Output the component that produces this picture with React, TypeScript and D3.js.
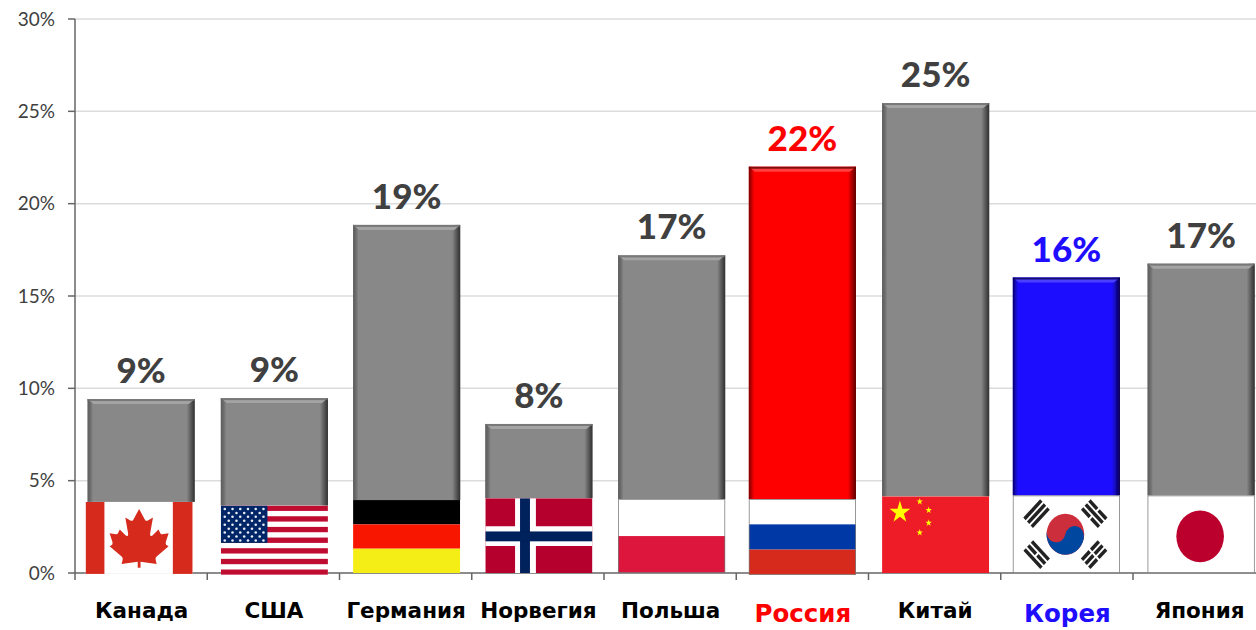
import React from "react";
import * as d3 from "d3";

const categories = ["Канада", "США", "Германия", "Норвегия", "Польша", "Россия", "Китай", "Корея", "Япония"];
const values = [9.42, 9.47, 18.85, 8.07, 17.2, 22.0, 25.45, 16.0, 16.75];
const dataLabels = ["9%", "9%", "19%", "8%", "17%", "22%", "25%", "16%", "17%"];
const flagTops = [3.85, 3.65, 3.95, 4.05, 4.0, 4.0, 4.15, 4.2, 4.2];
const flagBottoms = [-0.05, -0.1, 0, 0, 0, -0.1, 0, 0, 0];
const flagCodes = ["ca", "us", "de", "no", "pl", "ru", "cn", "kr", "jp"];
const yTicks = [0, 5, 10, 15, 20, 25, 30];

const W = 1256, H = 630;
const X0 = 75, STEP = 132.25, Y0 = 573, YT = 19;
const x = d3.scaleBand<string>().domain(categories).range([X0, X0 + STEP * categories.length]).paddingInner(0.19).paddingOuter(0.095);
const y = d3.scaleLinear().domain([0, 30]).range([Y0, YT]);

const accent: Record<string, string> = { "Россия": "#ff0000", "Корея": "#1f0dff" };
const dark: Record<string, string> = { "Россия": "#5a0000", "Корея": "#05004a" };
const light: Record<string, string> = { "Россия": "#ff4040", "Корея": "#4a40ff" };
const nudge: Record<string, number> = { us: 1, de: 1, no: 1, pl: 1.5, cn: 1, kr: -0.5, jp: 2 };
const flagExtra: Record<string, number> = { ca: -2 };

function star(cx: number, cy: number, r: number) {
  const pts = d3.range(10).map((i) => {
    const a = -Math.PI / 2 + (i * Math.PI) / 5;
    const rr = i % 2 ? r * 0.382 : r;
    return `${cx + rr * Math.cos(a)},${cy + rr * Math.sin(a)}`;
  });
  return pts.join(" ");
}

function Trigram({ cx, cy, rot, broken }: { cx: number; cy: number; rot: number; broken: boolean[] }) {
  return (
    <g transform={`translate(${cx},${cy}) rotate(${rot})`}>
      {broken.map((b, i) => {
        const yy = -7 + i * 5.2;
        return b ? (
          <g key={i}>
            <rect x={-12} y={yy} width={11} height={3.4} fill="#222" />
            <rect x={1} y={yy} width={11} height={3.4} fill="#222" />
          </g>
        ) : (
          <rect key={i} x={-12} y={yy} width={24} height={3.4} fill="#222" />
        );
      })}
    </g>
  );
}

function Flag({ code }: { code: string }) {
  const gray = "#777";
  switch (code) {
    case "ca":
      return (
        <g>
          <rect width={108} height={72} fill="#fff" />
          <rect width={19} height={72} fill="#d52b1e" />
          <rect x={88} width={20} height={72} fill="#d52b1e" />
          <path
            d="M54 5 L60 16 C61 18 62 18 64 17 L69 14 L66 31 C65.5 34 67 35 69 33 L75 27 L77 31 C77.5 32 78 32 79 32 L86 31 L83 40 C82.5 42 83 43 84 44 L86 45 L73 56 C72 57 71.5 58 72 60 L73 64 L55.5 61.5 L55.5 68 L52.5 68 L52.5 61.5 L35 64 L36 60 C36.5 58 36 57 35 56 L22 45 L24 44 C25 43 25.5 42 25 40 L22 31 L29 32 C30 32 30.5 32 31 31 L33 27 L39 33 C41 35 42.5 34 42 31 L39 14 L44 17 C46 18 47 18 48 16 Z"
            fill="#d52b1e"
            transform="translate(54 36) scale(0.93) translate(-54 -36)"
          />
        </g>
      );
    case "us": {
      const sh = 72 / 13;
      return (
        <g>
          <rect width={108} height={72} fill="#fff" />
          {d3.range(0, 13, 2).map((i) => (
            <rect key={i} y={i * sh} width={108} height={sh} fill="#bf0a30" />
          ))}
          <rect width={47} height={sh * 7} fill="#002868" />
          {d3.range(9).map((r) =>
            d3.range(r % 2 ? 5 : 6).map((c) => (
              <circle key={`${r}-${c}`} cx={(r % 2 ? 8 : 4) + c * 7.8} cy={3.5 + r * 4.1} r={1.3} fill="#e8ecf5" />
            ))
          )}
        </g>
      );
    }
    case "de":
      return (
        <g>
          <rect width={108} height={24} fill="#000" />
          <rect y={24} width={108} height={24} fill="#f91505" />
          <rect y={48} width={108} height={24} fill="#f5ee16" />
        </g>
      );
    case "no":
      return (
        <g>
          <rect width={108} height={72} fill="#b5002d" />
          <rect x={30} width={21} height={72} fill="#fff" />
          <rect y={27} width={108} height={19} fill="#fff" />
          <rect x={35} width={10} height={72} fill="#00205b" />
          <rect y={32} width={108} height={9.5} fill="#00205b" />
        </g>
      );
    case "pl":
      return (
        <g>
          <rect width={108} height={36} fill="#fff" />
          <rect y={36} width={108} height={36} fill="#dc173d" />
          <rect width={108} height={72} fill="none" stroke={gray} strokeWidth={1.5} />
        </g>
      );
    case "ru":
      return (
        <g>
          <rect width={108} height={24} fill="#fff" />
          <rect y={24} width={108} height={24} fill="#0039a6" />
          <rect y={48} width={108} height={24} fill="#d52b1e" />
          <rect width={108} height={72} fill="none" stroke={gray} strokeWidth={1.5} />
        </g>
      );
    case "cn":
      return (
        <g>
          <rect width={108} height={72} fill="#ee1c25" />
          <polygon points={star(18, 15, 11)} fill="#ffff00" />
          <polygon points={star(38, 5, 3.4)} fill="#ffff00" />
          <polygon points={star(47, 13, 3.4)} fill="#ffff00" />
          <polygon points={star(47, 25, 3.4)} fill="#ffff00" />
          <polygon points={star(38, 34, 3.4)} fill="#ffff00" />
        </g>
      );
    case "kr":
      return (
        <g>
          <rect width={108} height={72} fill="#fff" />
          <circle cx={53} cy={36} r={19} fill="#cd2e3a" />
          <path d="M34 36 A19 19 0 0 0 72 36 A9.5 9.5 0 0 0 53 36 A9.5 9.5 0 0 1 34 36 Z" fill="#0047a0" transform="rotate(12 53 36)" />
          <Trigram cx={24} cy={17} rot={-45} broken={[false, false, false]} />
          <Trigram cx={82} cy={17} rot={45} broken={[true, false, true]} />
          <Trigram cx={24} cy={55} rot={45} broken={[false, true, false]} />
          <Trigram cx={82} cy={55} rot={-45} broken={[true, true, true]} />
          <rect width={108} height={72} fill="none" stroke={gray} strokeWidth={1.5} />
        </g>
      );
    case "jp":
      return (
        <g>
          <rect width={108} height={72} fill="#fff" />
          <circle cx={53} cy={38} r={24} fill="#bc002d" />
          <rect width={108} height={72} fill="none" stroke={gray} strokeWidth={1.5} />
        </g>
      );
  }
  return null;
}

export default function App() {
  const bw = x.bandwidth();
  return (
    <svg width={W} height={H} style={{ position: "absolute", left: 0, top: 0, background: "#fff" }}>
      <defs>
        <filter id="soft" x="-2%" y="-2%" width="104%" height="104%">
          <feGaussianBlur stdDeviation="0.45" />
        </filter>
        {categories.map((c, i) => {
          const d = dark[c] ?? "#303030";
          return (
            <linearGradient key={c} id={`side${i}`} x1="0" x2="1" y1="0" y2="0">
              <stop offset="0" stopColor={dark[c] ?? "#555"} stopOpacity={0.8} />
              <stop offset="0.05" stopColor={d} stopOpacity={0} />
              <stop offset="0.925" stopColor={d} stopOpacity={0} />
              <stop offset="1" stopColor={d} stopOpacity={1} />
            </linearGradient>
          );
        })}
      </defs>

      {yTicks.filter((t) => t > 0).map((t) => (
        <line key={t} x1={X0} x2={W} y1={y(t)} y2={y(t)} stroke="#dcdcdc" strokeWidth={1.5} />
      ))}

      <line x1={X0} x2={X0} y1={y(30)} y2={y(0)} stroke="#666" strokeWidth={1.5} />
      <line x1={X0} x2={W} y1={y(0)} y2={y(0)} stroke="#666" strokeWidth={1.5} />
      {yTicks.map((t) => (
        <line key={t} x1={X0 - 7} x2={X0} y1={y(t)} y2={y(t)} stroke="#666" strokeWidth={1.5} />
      ))}
      {categories.map((c) => (
        <line key={c} x1={(x(c) as number) - (STEP - bw) / 2} x2={(x(c) as number) - (STEP - bw) / 2} y1={Y0} y2={Y0 + 7} stroke="#666" strokeWidth={1.5} />
      ))}
      {yTicks.map((t) => (
        <text key={t} x={55} y={y(t) + 6.5} textAnchor="end" fontFamily="Lato, 'Open Sans', sans-serif" fontSize={19} fill="#404040">
          {t}%
        </text>
      ))}

      {categories.map((c, i) => {
        const code = flagCodes[i];
        const bx = (x(c) as number) + (nudge[code] ?? 0);
        const top = y(values[i]);
        const ft = y(flagTops[i]);
        const fb = y(flagBottoms[i]);
        const base = accent[c] ?? "#888888";
        const lt = light[c] ?? "#a4a4a4";
        return (
          <g key={c}>
            <g filter="url(#soft)">
              <rect x={bx} y={top} width={bw} height={ft - top} fill={base} />
              <rect x={bx} y={top} width={bw} height={ft - top} fill={`url(#side${i})`} />
              <path d={`M${bx} ${top} H${bx + bw} L${bx + bw - 6} ${top + 5} H${bx + 6} Z`} fill={lt} />
              <rect x={bx} y={top} width={bw} height={2} fill={dark[c] ?? "#6a6a6a"} opacity={0.75} />
              <svg x={bx + (flagExtra[code] ?? 0)} y={ft} width={bw} height={fb - ft} viewBox="0 0 108 72" preserveAspectRatio="none">
                <Flag code={code} />
              </svg>
            </g>
            <text
              x={bx + bw / 2}
              y={top - 16}
              textAnchor="middle"
              fontFamily="Lato, 'Open Sans', sans-serif"
              fontWeight={900}
              fontSize={35}
              fill={accent[c] ?? "#404040"}
            >
              {dataLabels[i]}
            </text>
            <text
              x={(x(c) as number) + bw / 2 + 0.5}
              y={accent[c] ? 622 : 618}
              textAnchor="middle"
              fontFamily="'DejaVu Sans', 'Noto Sans', sans-serif"
              fontWeight={700}
              fontSize={accent[c] ? 24.5 : 21.5}
              fill={accent[c] ?? "#000"}
            >
              {c}
            </text>
          </g>
        );
      })}
    </svg>
  );
}
